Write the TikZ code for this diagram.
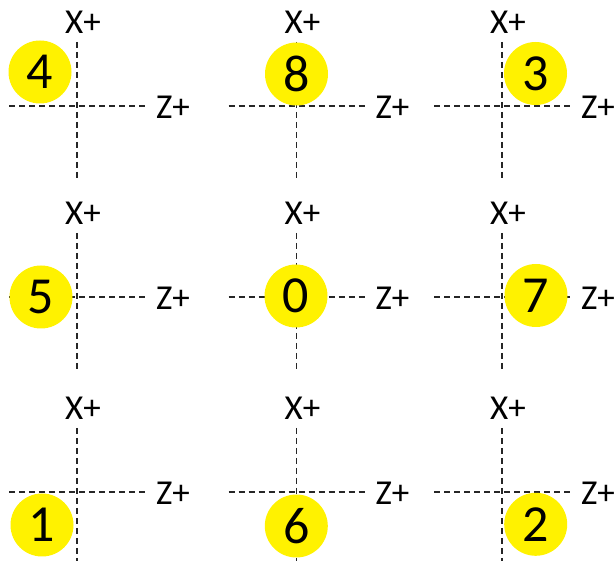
\documentclass[tikz,border=0pt]{standalone}
\usepackage{fontspec}
\setmainfont{Carlito}
\begin{document}
\begin{tikzpicture}[x=1pt,y=-1pt,
  axis/.style={draw=black!85,line width=1.7pt,dash pattern=on 6pt off 4pt},
  axlabel/.style={inner sep=0pt,font=\fontsize{35}{35}\selectfont},
  num/.style={circle,fill=yellow,minimum size=63pt,inner sep=0pt,font=\fontsize{52}{52}\selectfont}]
\useasboundingbox (0,0) rectangle (614,561);
\foreach \c/\cx in {a/77,b/296.5,c/502}{
  \foreach \r/\ry in {1/106,2/297,3/492}{
    \coordinate (h\c\r w) at (\cx-68,\ry);
    \coordinate (h\c\r e) at (\cx+71,\ry);
    \coordinate (v\c\r n) at (\cx,\ry-64);
    \coordinate (v\c\r s) at (\cx,\ry+74);
    \draw[axis] (h\c\r w) -- (h\c\r e);
    \draw[axis] (v\c\r n) -- (v\c\r s);
    \node[axlabel] (x\c\r) at (\cx+6,\ry-84) {X+};
    \node[axlabel] (z\c\r) at (\cx+96,\ry+1) {Z+};
  }
}
\node[num] (n4) at (40,72) {4};
\node[num] (n8) at (296.5,74) {8};
\node[num] (n3) at (535.5,73.5) {3};
\node[num] (n5) at (41,297) {5};
\node[num] (n0) at (296,296) {0};
\node[num] (n7) at (536,295.5) {7};
\node[num] (n1) at (42,525) {1};
\node[num] (n6) at (296.3,526) {6};
\node[num] (n2) at (535.7,524.3) {2};
\end{tikzpicture}
\end{document}
